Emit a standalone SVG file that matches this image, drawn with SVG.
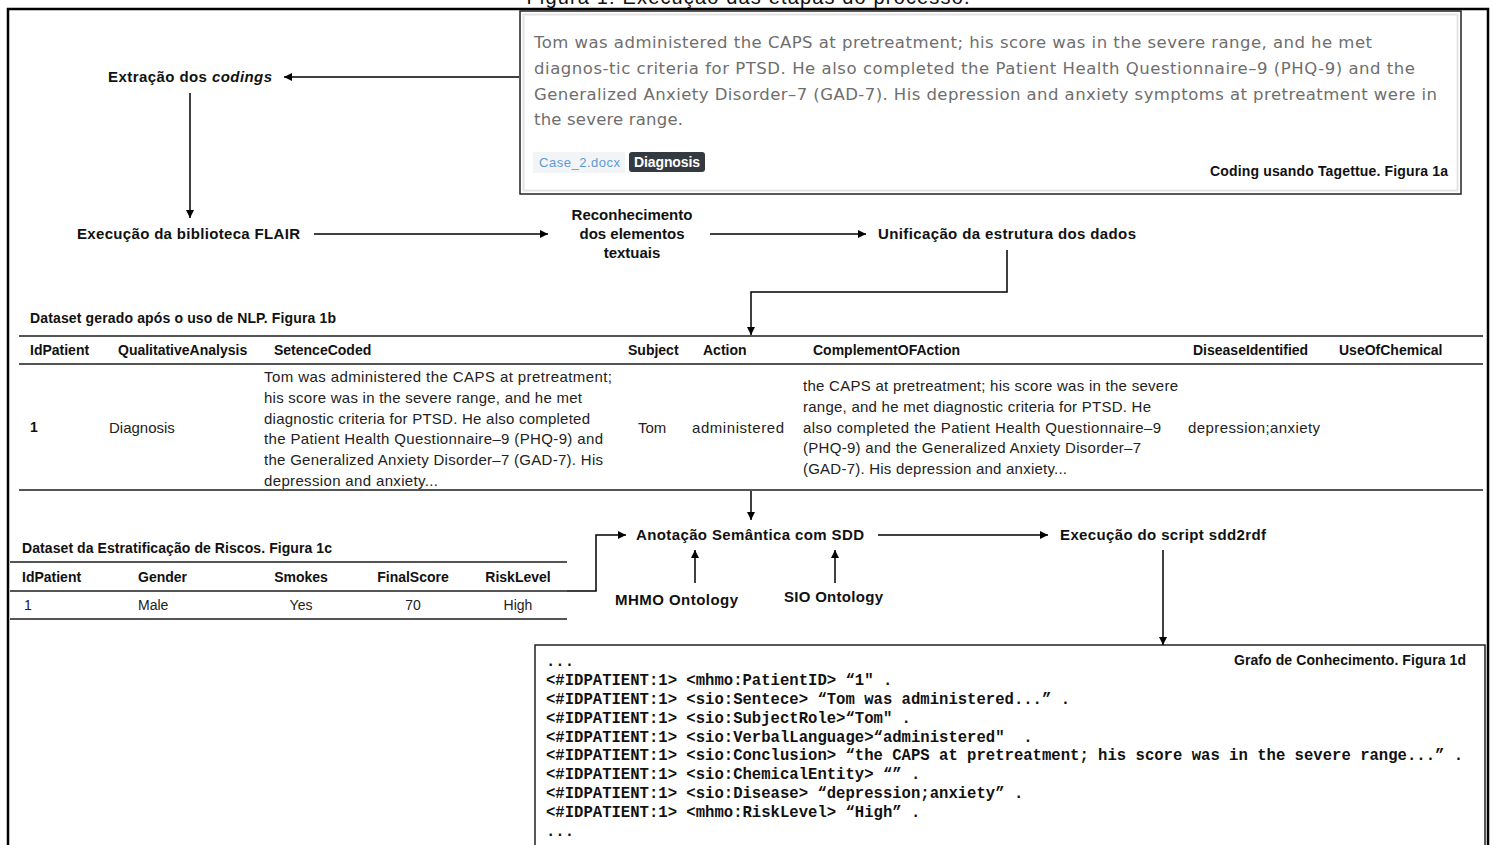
<svg xmlns="http://www.w3.org/2000/svg" width="1494" height="845" viewBox="0 0 1494 845">
<defs>
<marker id="ah" viewBox="0 0 10 10" refX="10" refY="5" markerWidth="9" markerHeight="8" markerUnits="userSpaceOnUse" orient="auto"><path d="M0,0 L10,5 L0,10 z" fill="#000"/></marker>
<style>
.lbl{font-family:"Liberation Sans",Arial,sans-serif;font-weight:bold;font-size:15px;fill:#111}
.cap{font-family:"Liberation Sans",Arial,sans-serif;font-weight:bold;font-size:14px;fill:#111}
.hd{font-family:"Liberation Sans",Arial,sans-serif;font-weight:bold;font-size:14px;fill:#111}
.cell{font-family:"Liberation Sans",Arial,sans-serif;font-size:15px;fill:#222}
.cell2{font-family:"Liberation Sans",Arial,sans-serif;font-size:14px;fill:#222}
.tg{font-family:"DejaVu Sans",sans-serif;font-size:16.5px;fill:#6e6e6e}
.code{font-family:"Liberation Mono","Courier New",monospace;font-weight:bold;font-size:15.6px;fill:#111;white-space:pre}
.conn{fill:none;stroke:#000;stroke-width:1.5}
.tline{stroke:#555;stroke-width:2}
</style>
</defs>
<rect width="1494" height="845" fill="#fff"/>
<text x="748" y="4" text-anchor="middle" font-family="Liberation Sans, Arial, sans-serif" font-size="20" fill="#111" textLength="443">Figura 1: Execução das etapas do processo.</text>
<rect x="8" y="9" width="1480" height="850" fill="none" stroke="#000" stroke-width="2.5"/>

<g id="tagettue">
<rect x="520" y="11" width="941" height="183" fill="#fff" stroke="#222" stroke-width="1.5"/>
<rect x="523.5" y="14.5" width="934" height="176" fill="none" stroke="#e4e4e4" stroke-width="2"/>
<text class="tg" x="534" y="48" textLength="838">Tom was administered the CAPS at pretreatment; his score was in the severe range, and he met</text>
<text class="tg" x="534" y="74" textLength="881">diagnos-tic criteria for PTSD. He also completed the Patient Health Questionnaire–9 (PHQ-9) and the</text>
<text class="tg" x="534" y="100" textLength="903">Generalized Anxiety Disorder–7 (GAD-7). His depression and anxiety symptoms at pretreatment were in</text>
<text class="tg" x="534" y="125" textLength="149">the severe range.</text>
<rect x="533" y="152" width="92" height="21" fill="#f3f4f6"/>
<text x="539" y="167" font-family="Liberation Sans, Arial, sans-serif" font-size="13" fill="#5b9bd5" textLength="81">Case_2.docx</text>
<rect x="629" y="152" width="76" height="20" rx="3" fill="#343a40"/>
<text x="667" y="167" text-anchor="middle" font-family="Liberation Sans, Arial, sans-serif" font-size="14" font-weight="bold" fill="#fff" textLength="66">Diagnosis</text>
<text class="cap" x="1448" y="176" text-anchor="end" textLength="238">Coding usando Tagettue. Figura 1a</text>
</g>

<g id="extracao"><text class="lbl" x="108" y="82" textLength="164">Extração dos <tspan font-style="italic">codings</tspan></text></g>
<g id="flair"><text class="lbl" x="77" y="239" textLength="223">Execução da biblioteca FLAIR</text></g>
<g id="reconhecimento">
<text class="lbl" x="632" y="220" text-anchor="middle">Reconhecimento</text>
<text class="lbl" x="632" y="239" text-anchor="middle">dos elementos</text>
<text class="lbl" x="632" y="258" text-anchor="middle">textuais</text>
</g>
<g id="unificacao"><text class="lbl" x="878" y="239" textLength="258">Unificação da estrutura dos dados</text></g>

<g id="dataset1b">
<text class="cap" x="30" y="323" textLength="306">Dataset gerado após o uso de NLP. Figura 1b</text>
<line class="tline" x1="19" y1="336" x2="1483" y2="336"/>
<line class="tline" x1="19" y1="364" x2="1483" y2="364"/>
<line class="tline" x1="19" y1="490" x2="1483" y2="490"/>
<text class="hd" x="30" y="355">IdPatient</text>
<text class="hd" x="118" y="355">QualitativeAnalysis</text>
<text class="hd" x="274" y="355">SetenceCoded</text>
<text class="hd" x="628" y="355">Subject</text>
<text class="hd" x="703" y="355">Action</text>
<text class="hd" x="813" y="355">ComplementOFAction</text>
<text class="hd" x="1193" y="355">DiseaseIdentified</text>
<text class="hd" x="1339" y="355">UseOfChemical</text>
<text class="hd" x="30" y="432">1</text>
<text class="cell" x="109" y="433">Diagnosis</text>
<text class="cell" x="264" y="382" textLength="348">Tom was administered the CAPS at pretreatment;</text>
<text class="cell" x="264" y="403" textLength="318">his score was in the severe range, and he met</text>
<text class="cell" x="264" y="424" textLength="326">diagnostic criteria for PTSD. He also completed</text>
<text class="cell" x="264" y="444" textLength="339">the Patient Health Questionnaire–9 (PHQ-9) and</text>
<text class="cell" x="264" y="465" textLength="339">the Generalized Anxiety Disorder–7 (GAD-7). His</text>
<text class="cell" x="264" y="486" textLength="174">depression and anxiety...</text>
<text class="cell" x="638" y="433">Tom</text>
<text class="cell" x="692" y="433" textLength="92">administered</text>
<text class="cell" x="803" y="391" textLength="375">the CAPS at pretreatment; his score was in the severe</text>
<text class="cell" x="803" y="412" textLength="348">range, and he met diagnostic criteria for PTSD. He</text>
<text class="cell" x="803" y="433" textLength="358">also completed the Patient Health Questionnaire–9</text>
<text class="cell" x="803" y="453" textLength="338">(PHQ-9) and the Generalized Anxiety Disorder–7</text>
<text class="cell" x="803" y="474" textLength="264">(GAD-7). His depression and anxiety...</text>
<text class="cell" x="1188" y="433" textLength="132">depression;anxiety</text>
</g>

<g id="dataset1c">
<text class="cap" x="22" y="553" textLength="310">Dataset da Estratificação de Riscos. Figura 1c</text>
<line class="tline" x1="10" y1="562" x2="567" y2="562"/>
<line class="tline" x1="10" y1="591" x2="567" y2="591"/>
<line class="tline" x1="10" y1="619" x2="567" y2="619"/>
<text class="hd" x="22" y="582">IdPatient</text>
<text class="hd" x="138" y="582">Gender</text>
<text class="hd" x="301" y="582" text-anchor="middle">Smokes</text>
<text class="hd" x="413" y="582" text-anchor="middle">FinalScore</text>
<text class="hd" x="518" y="582" text-anchor="middle">RiskLevel</text>
<text class="cell2" x="24" y="610">1</text>
<text class="cell2" x="138" y="610">Male</text>
<text class="cell2" x="301" y="610" text-anchor="middle">Yes</text>
<text class="cell2" x="413" y="610" text-anchor="middle">70</text>
<text class="cell2" x="518" y="610" text-anchor="middle">High</text>
</g>

<g id="anotacao"><text class="lbl" x="636" y="540" textLength="228">Anotação Semântica com SDD</text></g>
<g id="sdd2rdf"><text class="lbl" x="1060" y="540" textLength="206">Execução do script sdd2rdf</text></g>
<g id="mhmo"><text class="lbl" x="615" y="605" textLength="123">MHMO  Ontology</text></g>
<g id="sio"><text class="lbl" x="784" y="602" textLength="99">SIO Ontology</text></g>

<g id="grafo">
<rect x="535" y="645" width="950" height="210" fill="#fff" stroke="#222" stroke-width="1.5"/>
<text class="cap" x="1466" y="665" text-anchor="end" textLength="232">Grafo de Conhecimento. Figura 1d</text>
<text class="code" x="546" y="666">...</text>
<text class="code" x="546" y="685">&lt;#IDPATIENT:1&gt; &lt;mhmo:PatientID&gt; “1" .</text>
<text class="code" x="546" y="704">&lt;#IDPATIENT:1&gt; &lt;sio:Sentece&gt; “Tom was administered...” .</text>
<text class="code" x="546" y="723">&lt;#IDPATIENT:1&gt; &lt;sio:SubjectRole&gt;“Tom" .</text>
<text class="code" x="546" y="742">&lt;#IDPATIENT:1&gt; &lt;sio:VerbalLanguage&gt;“administered"  .</text>
<text class="code" x="546" y="760">&lt;#IDPATIENT:1&gt; &lt;sio:Conclusion&gt; “the CAPS at pretreatment; his score was in the severe range...” .</text>
<text class="code" x="546" y="779">&lt;#IDPATIENT:1&gt; &lt;sio:ChemicalEntity&gt; “” .</text>
<text class="code" x="546" y="798">&lt;#IDPATIENT:1&gt; &lt;sio:Disease&gt; “depression;anxiety” .</text>
<text class="code" x="546" y="817">&lt;#IDPATIENT:1&gt; &lt;mhmo:RiskLevel&gt; “High” .</text>
<text class="code" x="546" y="836">...</text>
</g>

<g id="connectors">
<path class="conn" d="M519,77 H284" marker-end="url(#ah)"/>
<path class="conn" d="M190,93 V218" marker-end="url(#ah)"/>
<path class="conn" d="M314,234 H548" marker-end="url(#ah)"/>
<path class="conn" d="M710,234 H866" marker-end="url(#ah)"/>
<path class="conn" d="M1007,250 V292 H751 V335" marker-end="url(#ah)"/>
<path class="conn" d="M751,491 V520" marker-end="url(#ah)"/>
<path class="conn" d="M567,591 H596 V535 H626" marker-end="url(#ah)"/>
<path class="conn" d="M695,583 V550" marker-end="url(#ah)"/>
<path class="conn" d="M835,583 V550" marker-end="url(#ah)"/>
<path class="conn" d="M878,535 H1048" marker-end="url(#ah)"/>
<path class="conn" d="M1163,550 V645" marker-end="url(#ah)"/>
</g>
</svg>
